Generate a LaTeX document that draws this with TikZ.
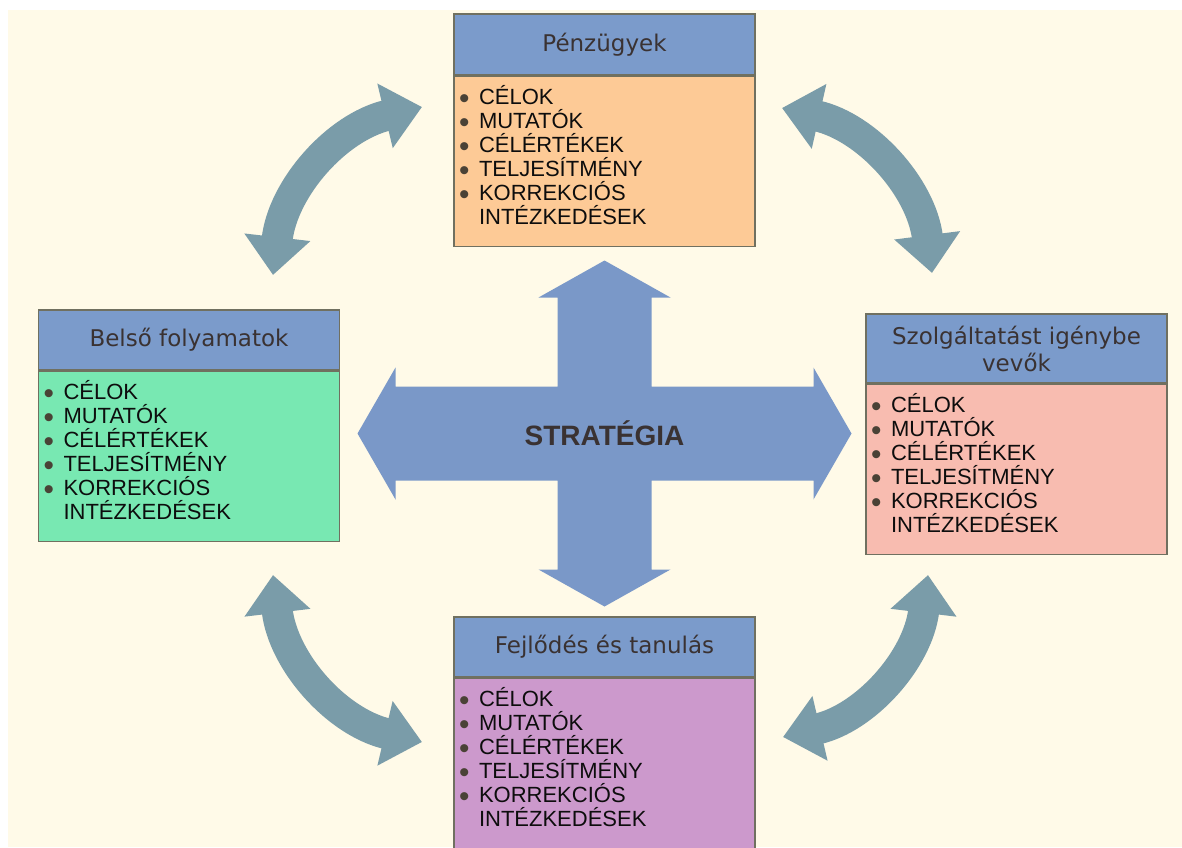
\documentclass[tikz,border=0pt]{standalone}
\usepackage{fontspec}
\setmainfont{Liberation Sans}
\newfontfamily\hdrfont{DejaVu Sans}
\usetikzlibrary{positioning,arrows.meta}

\definecolor{bgcream}{HTML}{FFFAE8}
\definecolor{hdrblue}{HTML}{7B9BCB}
\definecolor{crossblue}{HTML}{7A98C8}
\definecolor{cycblue}{HTML}{7A9CA9}
\definecolor{boxline}{HTML}{707060}
\definecolor{fillpeach}{HTML}{FDCA96}
\definecolor{fillgreen}{HTML}{78E8B2}
\definecolor{fillpink}{HTML}{F8BCB0}
\definecolor{fillplum}{HTML}{CC99CC}
\definecolor{inktext}{HTML}{3A3232}
\definecolor{bltdot}{HTML}{4A4236}

\newcommand{\blt}{\makebox[10pt][l]{\raisebox{-1.8pt}{\color{bltdot}\scalebox{1.35}{\textbullet}}}}
\newcommand{\kpilist}{\rule{0pt}{14pt}\blt CÉLOK\\
  \blt MUTATÓK\\
  \blt CÉLÉRTÉKEK\\
  \blt TELJESÍTMÉNY\\
  \blt KORREKCIÓS\\
  \hspace*{10pt}INTÉZKEDÉSEK\rule[-11pt]{0pt}{11pt}}

\begin{document}
\begin{tikzpicture}[x=0.5pt, y=-0.5pt]
  \tikzset{
    hdr/.style={draw=boxline, fill=hdrblue, line width=0.8pt, minimum width=150.5pt,
      minimum height=30.5pt, inner sep=0pt, align=center, text=inktext,
      font=\hdrfont\fontsize{11.5}{13.5}\selectfont},
    kpibody/.style={draw=boxline, line width=0.8pt, text width=145.5pt, inner xsep=2.5pt,
      inner ysep=0pt, align=left, text=black!95, font=\fontsize{11}{12}\selectfont},
    cyc/.style={draw=cycblue, line width=15.5pt,
      {Triangle[length=19pt,width=32pt]}-{Triangle[length=19pt,width=32pt]}}
  }
  \fill[white] (0,0) rectangle (1182,847);
  \fill[bgcream] (8,10) rectangle (1182,847);
  \useasboundingbox (0,0) rectangle (1182,847);

  % central cross
  \coordinate (mid) at (604.5,433.5);
  \fill[crossblue] (mid) ++(0,-173) -- ++(66,37) -- ++(-19,0) -- ++(0,89)
    -- ++(162,0) -- ++(0,-19) -- ++(38,66) -- ++(-38,66) -- ++(0,-19)
    -- ++(-162,0) -- ++(0,89) -- ++(19,0) -- ++(-66,37) -- ++(-66,-37)
    -- ++(19,0) -- ++(0,-89) -- ++(-162,0) -- ++(0,19) -- ++(-38,-66)
    -- ++(38,-66) -- ++(0,19) -- ++(162,0) -- ++(0,-89) -- ++(-19,0) -- cycle;
  \node[text=inktext, font=\bfseries\fontsize{14}{16}\selectfont] (strat) at (mid) {STRATÉGIA};

  % perspective boxes
  \node[hdr] (pzh) at (604.5,44.5) {Pénzügyek};
  \node[kpibody, fill=fillpeach, below=0pt of pzh] (pzb) {\kpilist};

  \node[hdr, minimum height=30pt] (bfh) at (189,340) {Belső folyamatok};
  \node[kpibody, fill=fillgreen, below=0pt of bfh] (bfb) {\kpilist};

  \node[hdr, minimum height=34.5pt] (szh) at (1016.5,348.5) {Szolgáltatást igénybe\\vevők};
  \node[kpibody, fill=fillpink, below=0pt of szh] (szb) {\kpilist};

  \node[hdr, minimum height=30pt] (fth) at (604.5,647) {Fejlődés és tanulás};
  \node[kpibody, fill=fillplum, below=0pt of fth] (ftb) {\kpilist};

  % cycle arrows
  \coordinate (tl1) at (273,275);
  \coordinate (tl2) at (422,107);
  \coordinate (tr1) at (782,108);
  \coordinate (tr2) at (932,273);
  \coordinate (br1) at (928,575);
  \coordinate (br2) at (783,737);
  \coordinate (bl1) at (422,742);
  \coordinate (bl2) at (273,575);
  \draw[cyc] (tl1) to[bend left=35] (tl2);
  \draw[cyc] (tr1) to[bend left=35] (tr2);
  \draw[cyc] (br1) to[bend left=35] (br2);
  \draw[cyc] (bl1) to[bend left=35] (bl2);
\end{tikzpicture}
\end{document}
